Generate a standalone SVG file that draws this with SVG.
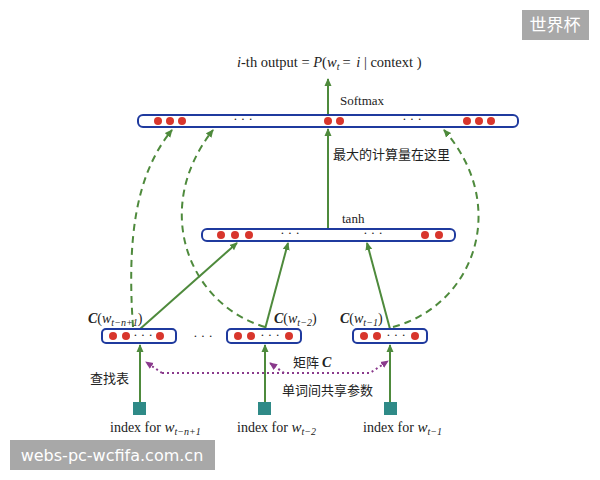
<svg xmlns="http://www.w3.org/2000/svg" width="600" height="480" viewBox="0 0 600 480">
<defs>
<style>
.bar{fill:#fff;stroke:#1f3a9e;stroke-width:2}
.dot{fill:#d8362c}
.g{stroke:#4e8a3c;stroke-width:2;fill:none}
.gd{stroke:#4e8a3c;stroke-width:2;fill:none;stroke-dasharray:7,5}
.pd{stroke:#8a3a8c;stroke-width:2;fill:none;stroke-dasharray:2,3}
.t{font-family:"Liberation Serif",serif;fill:#222}
.cn{font-family:"Noto Sans CJK SC",sans-serif;fill:#222}
.it{font-style:italic}
.sub{font-style:italic}
.sq{fill:#2f8a87}
.wm{fill:#a8a8a8}
.wmt{font-family:"DejaVu Sans",sans-serif;fill:#fff}
</style>
<marker id="ag" markerWidth="8" markerHeight="8" refX="7" refY="4" orient="auto" markerUnits="userSpaceOnUse"><path d="M0,0.5 L8,4 L0,7.5 Z" fill="#4e8a3c"/></marker>
<marker id="ap" markerWidth="8" markerHeight="8" refX="7" refY="4" orient="auto" markerUnits="userSpaceOnUse"><path d="M0,0.5 L8,4 L0,7.5 Z" fill="#8a3a8c"/></marker>
</defs>
<rect width="600" height="480" fill="#fff"/>

<g id="connectors">
<line class="g" x1="328" y1="115" x2="328" y2="79" marker-end="url(#ag)"/>
<line class="g" x1="328" y1="229" x2="328" y2="129" marker-end="url(#ag)"/>
<line class="g" x1="140" y1="329" x2="237" y2="243" marker-end="url(#ag)"/>
<line class="g" x1="265" y1="329" x2="288" y2="243" marker-end="url(#ag)"/>
<line class="g" x1="390" y1="329" x2="367" y2="243" marker-end="url(#ag)"/>
<path class="gd" d="M133,327 C127,240 135,175 172,130" marker-end="url(#ag)"/>
<path class="gd" d="M265,327 C190,305 150,210 213,130" marker-end="url(#ag)"/>
<path class="gd" d="M393,327 C475,305 510,205 444,130" marker-end="url(#ag)"/>
<line class="g" x1="140" y1="402" x2="140" y2="345" marker-end="url(#ag)"/>
<line class="g" x1="265" y1="402" x2="265" y2="345" marker-end="url(#ag)"/>
<line class="g" x1="390" y1="402" x2="390" y2="345" marker-end="url(#ag)"/>
<path class="pd" d="M162,373 L146,362" marker-end="url(#ap)"/>
<path class="pd" d="M162,373 L370,373 L388,361" marker-end="url(#ap)"/>
<path class="pd" d="M284,373 L270,363" marker-end="url(#ap)"/>
</g>

<g id="title">
<text class="t" x="237" y="67" font-size="14.5"><tspan class="it">i</tspan>-th output = <tspan class="it">P</tspan>(<tspan class="it">w</tspan><tspan class="sub" font-size="10" dy="3">t</tspan><tspan dy="-3" dx="3">= </tspan><tspan class="it" dx="2">i</tspan> | context )</text>
</g>

<g id="softmax-layer">
<rect class="bar" x="138" y="115" width="380" height="12" rx="5"/>
<circle class="dot" cx="158" cy="121" r="4"/><circle class="dot" cx="170" cy="121" r="4"/><circle class="dot" cx="182" cy="121" r="4"/>
<circle class="dot" cx="328" cy="121" r="4"/><circle class="dot" cx="340" cy="121" r="4"/>
<circle class="dot" cx="467" cy="121" r="4"/><circle class="dot" cx="479" cy="121" r="4"/><circle class="dot" cx="491" cy="121" r="4"/>
<text class="t" x="243" y="123" text-anchor="middle" font-size="13">· · ·</text>
<text class="t" x="412" y="123" text-anchor="middle" font-size="13">· · ·</text>
<text class="t" x="340" y="105" font-size="13">Softmax</text>
</g>

<g id="label-compute">
<text class="cn" x="333" y="159" font-size="13">最大的计算量在这里</text>
</g>

<g id="tanh-layer">
<rect class="bar" x="202" y="229" width="253" height="12" rx="5"/>
<circle class="dot" cx="221" cy="235" r="4"/><circle class="dot" cx="235" cy="235" r="4"/><circle class="dot" cx="249" cy="235" r="4"/>
<circle class="dot" cx="425" cy="235" r="4"/><circle class="dot" cx="439" cy="235" r="4"/>
<text class="t" x="290" y="237" text-anchor="middle" font-size="13">· · ·</text>
<text class="t" x="373" y="237" text-anchor="middle" font-size="13">· · ·</text>
<text class="t" x="342" y="223" font-size="13">tanh</text>
</g>

<g id="c1">
<rect class="bar" x="102" y="329" width="74" height="14" rx="4"/>
<circle class="dot" cx="113" cy="336" r="4"/><circle class="dot" cx="126" cy="336" r="4"/><circle class="dot" cx="160" cy="336" r="4"/>
<text class="t" x="143" y="339" text-anchor="middle" font-size="13">· · ·</text>
<text class="t" x="88" y="323" font-size="14"><tspan font-weight="bold" font-style="italic">C</tspan>(<tspan class="it">w</tspan><tspan class="sub" font-size="10" dy="3">t−n+1</tspan><tspan dy="-3">)</tspan></text>
</g>

<text class="t" x="203" y="340" text-anchor="middle" font-size="13">· · ·</text>

<g id="c2">
<rect class="bar" x="227" y="329" width="74" height="14" rx="4"/>
<circle class="dot" cx="238" cy="336" r="4"/><circle class="dot" cx="251" cy="336" r="4"/><circle class="dot" cx="289" cy="336" r="4"/>
<text class="t" x="270" y="339" text-anchor="middle" font-size="13">· · ·</text>
<text class="t" x="274" y="323" font-size="14"><tspan font-weight="bold" font-style="italic">C</tspan>(<tspan class="it">w</tspan><tspan class="sub" font-size="10" dy="3">t−2</tspan><tspan dy="-3">)</tspan></text>
</g>

<g id="c3">
<rect class="bar" x="353" y="329" width="74" height="14" rx="4"/>
<circle class="dot" cx="364" cy="336" r="4"/><circle class="dot" cx="377" cy="336" r="4"/><circle class="dot" cx="415" cy="336" r="4"/>
<text class="t" x="396" y="339" text-anchor="middle" font-size="13">· · ·</text>
<text class="t" x="340" y="323" font-size="14"><tspan font-weight="bold" font-style="italic">C</tspan>(<tspan class="it">w</tspan><tspan class="sub" font-size="10" dy="3">t−1</tspan><tspan dy="-3">)</tspan></text>
</g>

<g id="labels-matrix">
<text class="cn" x="293" y="367" font-size="13">矩阵 <tspan font-family="Liberation Serif,serif" font-weight="bold" font-style="italic" font-size="14">C</tspan></text>
<text class="cn" x="90" y="383" font-size="13">查找表</text>
<text class="cn" x="282" y="395" font-size="13">单词间共享参数</text>
</g>

<g id="idx1">
<rect class="sq" x="133" y="402" width="13" height="13"/>
<text class="t" x="110" y="432" font-size="14">index for <tspan class="it" font-size="15">w</tspan><tspan class="sub" font-size="10" dy="3">t−n+1</tspan></text>
</g>
<g id="idx2">
<rect class="sq" x="258" y="402" width="13" height="13"/>
<text class="t" x="237" y="432" font-size="14">index for <tspan class="it" font-size="15">w</tspan><tspan class="sub" font-size="10" dy="3">t−2</tspan></text>
</g>
<g id="idx3">
<rect class="sq" x="384" y="402" width="13" height="13"/>
<text class="t" x="363" y="432" font-size="14">index for <tspan class="it" font-size="15">w</tspan><tspan class="sub" font-size="10" dy="3">t−1</tspan></text>
</g>

<g id="watermarks">
<rect class="wm" x="522" y="10" width="67" height="30"/>
<text class="cn" x="555" y="31" text-anchor="middle" font-size="17" style="fill:#fff">世界杯</text>
<rect class="wm" x="10" y="440" width="205" height="30"/>
<text class="wmt" x="112" y="461" text-anchor="middle" font-size="16">webs-pc-wcfifa.com.cn</text>
</g>
</svg>
